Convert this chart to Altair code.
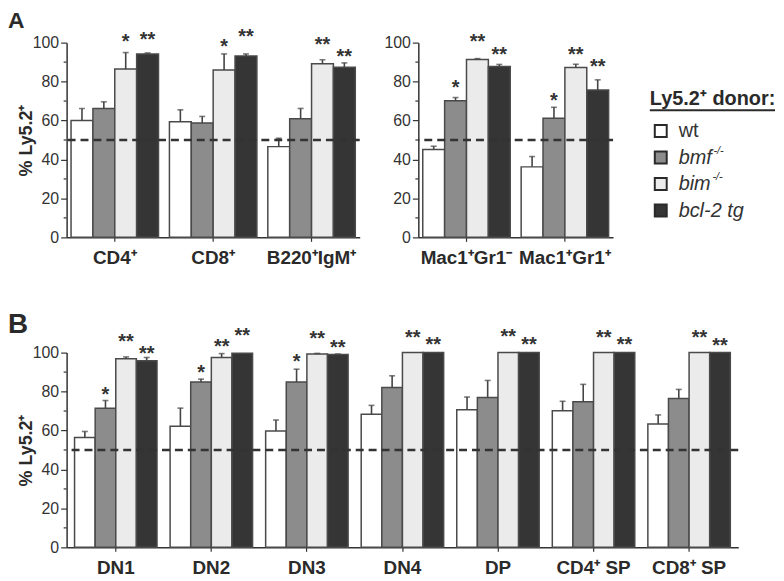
import altair as alt
import pandas as pd

FONT = "Liberation Sans"
INK = "#333333"

genotypes = ["wt", "bmf-/-", "bim-/-", "bcl-2 tg"]
fills = ["#ffffff", "#8c8c8c", "#ebebeb", "#353535"]

# ---------------- Panel A (lymphoid) ----------------
cats_a1 = ["CD4⁺", "CD8⁺", "B220⁺IgM⁺"]
a1_means = [
    [60.0, 59.4, 46.6],   # wt
    [66.2, 58.7, 60.9],   # bmf-/-
    [86.4, 85.9, 89.1],   # bim-/-
    [94.2, 93.2, 87.4],   # bcl-2 tg
]
a1_sems = [
    [6.2, 6.1, 4.3],
    [3.4, 3.4, 5.3],
    [8.5, 8.3, 2.1],
    [0.5, 1.0, 2.2],
]
a1_stars = [
    ["", "", ""],
    ["", "", ""],
    ["*", "*", "**"],
    ["**", "**", "**"],
]
a1_star_y = [
    [0, 0, 0],
    [0, 0, 0],
    [102.9, 100.3, 101.2],
    [103.7, 105.4, 95.2],
]

# ---------------- Panel A (myeloid) ----------------
cats_a2 = ["Mac1⁺Gr1⁻", "Mac1⁺Gr1⁺"]
a2_means = [
    [45.1, 36.2],
    [70.1, 61.2],
    [91.3, 87.2],
    [87.8, 75.7],
]
a2_sems = [
    [1.7, 5.3],
    [1.7, 5.6],
    [0.5, 1.7],
    [1.0, 5.2],
]
a2_stars = [
    ["", ""],
    ["*", "*"],
    ["**", "**"],
    ["**", "**"],
]
a2_star_y = [
    [0, 0],
    [79.1, 72.4],
    [102.9, 96.1],
    [96.1, 89.8],
]

# ---------------- Panel B (thymus) ----------------
cats_b = ["DN1", "DN2", "DN3", "DN4", "DP", "CD4⁺ SP", "CD8⁺ SP"]
b_means = [
    [56.4, 62.2, 59.8, 68.3, 70.7, 70.1, 63.3],
    [71.4, 84.9, 84.9, 82.1, 77.0, 74.8, 76.4],
    [96.9, 97.5, 99.3, 100, 100, 100, 100],
    [95.8, 99.7, 99.0, 100, 100, 100, 100],
]
b_sems = [
    [3.1, 9.3, 5.6, 4.6, 6.5, 4.9, 4.7],
    [4.0, 1.5, 6.6, 6.0, 8.7, 8.9, 4.7],
    [0.9, 2.0, 0.3, 0, 0, 0, 0],
    [1.7, 0, 0.3, 0, 0, 0, 0],
]
b_stars = [
    ["", "", "", "", "", "", ""],
    ["*", "*", "*", "", "", "", ""],
    ["**", "**", "**", "**", "**", "**", "**"],
    ["**", "**", "**", "**", "**", "**", "**"],
]
b_star_y = [
    [0, 0, 0, 0, 0, 0, 0],
    [81.0, 92.0, 97.5, 0, 0, 0, 0],
    [107.8, 105.3, 109.5, 110.2, 110.5, 110.2, 110.2],
    [101.9, 111.2, 104.7, 106.3, 106.3, 106.3, 106.0],
]

minor_ticks = [10, 30, 50, 70, 90]


def long_df(cats, means, sems, stars, star_y):
    rows = []
    for gi, g in enumerate(genotypes):
        for ci, c in enumerate(cats):
            rows.append(dict(cat=c, geno=g, mean=means[gi][ci], sem=sems[gi][ci],
                             top=means[gi][ci] + sems[gi][ci],
                             star=stars[gi][ci], star_y=star_y[gi][ci]))
    return pd.DataFrame(rows)


def marker(x, y, x2, y2):
    # invisible layout helper (fixes the panel bounds)
    return alt.Chart(pd.DataFrame({"t": [0]})).mark_rule(
        opacity=0, strokeWidth=0.5).encode(
        x=alt.value(x), y=alt.value(y), x2=alt.value(x2), y2=alt.value(y2))


def letter_layer(letter, size, y, opacity=1.0, x=-59):
    return alt.Chart(pd.DataFrame({"t": [letter]})).mark_text(
        font=FONT, fontSize=size, fontWeight="bold", color="#2a2a2a", opacity=opacity,
        align="left", baseline="alphabetic").encode(
        x=alt.value(x), y=alt.value(y), text="t:N")


def panel(df, cats, y_title, pad_inner, pad_outer):
    xs = alt.X("cat:N", sort=cats,
               scale=alt.Scale(domain=cats, paddingInner=pad_inner, paddingOuter=pad_outer),
               axis=alt.Axis(title=None, labelAngle=0, labelFont=FONT, labelFontSize=19,
                             labelFontWeight="bold", labelColor="#2a2a2a", tickSize=4,
                             labelPadding=7, domainColor=INK, domainWidth=1.5,
                             tickColor=INK, tickWidth=1.2))
    xo = alt.XOffset("geno:N", sort=genotypes,
                     scale=alt.Scale(domain=genotypes, paddingInner=0, paddingOuter=0))
    yaxis = alt.Axis(values=[0, 20, 40, 60, 80, 100], tickSize=6,
                     labelFont=FONT, labelFontSize=16, labelColor=INK, labelPadding=2,
                     domainColor=INK, domainWidth=1.5, tickColor=INK, tickWidth=1.2,
                     grid=False, title=y_title, titleFont=FONT, titleFontSize=18,
                     titleFontWeight="bold", titleColor="#2a2a2a", titlePadding=-3)
    ysc = alt.Scale(domain=[0, 100], nice=False, zero=True)

    def Y(field):
        return alt.Y(field, scale=ysc, axis=yaxis)

    fill = alt.Fill("geno:N", scale=alt.Scale(domain=genotypes, range=fills), legend=None)

    bars = alt.Chart(df).mark_bar(stroke="#4a4a4a", strokeWidth=1.5).encode(
        x=xs, xOffset=xo, y=Y("mean:Q"), fill=fill)
    errdf = df[df["sem"] > 0]
    err = alt.Chart(errdf).mark_bar(size=1.6, color="#444444").encode(
        x=xs, xOffset=xo, y=Y("mean:Q"), y2="top:Q")
    caps = alt.Chart(errdf).mark_tick(size=6, thickness=1.6, color="#444444",
                                      orient="horizontal").encode(
        x=xs, xOffset=xo, y=Y("top:Q"))
    stardf = df[df["star"] != ""]
    stars = alt.Chart(stardf).mark_text(font=FONT, fontSize=20, fontWeight="bold",
                                        color=INK, baseline="middle", dy=5).encode(
        x=xs, xOffset=xo, y=Y("star_y:Q"), text="star:N")
    refline = alt.Chart(pd.DataFrame({"v": [50]})).mark_rule(
        strokeDash=[8, 5], strokeWidth=2.5, color=INK).encode(y=Y("v:Q"))
    minor = alt.Chart(pd.DataFrame({"v": minor_ticks})).mark_rule(
        color=INK, strokeWidth=1.2).encode(y=Y("v:Q"), x=alt.value(-3), x2=alt.value(0))
    return [bars, err, caps, stars, refline, minor]


H = 196
A_BASE = -15

a1 = alt.layer(
    *panel(long_df(cats_a1, a1_means, a1_sems, a1_stars, a1_star_y), cats_a1,
           "% Ly5.2⁺", 0.111, 0.045),
    letter_layer("A", 23, A_BASE),
    marker(305, 0, 305, 196), marker(0, 235, 295, 235),
).properties(width=295, height=H)

a2 = alt.layer(
    *panel(long_df(cats_a2, a2_means, a2_sems, a2_stars, a2_star_y), cats_a2,
           None, 0.111, 0.045),
    letter_layer("A", 23, A_BASE, opacity=0, x=0),
    marker(-49, 0, -49, 196), marker(232, 0, 232, 196),
).properties(width=196, height=H)

b = alt.layer(
    *panel(long_df(cats_b, b_means, b_sems, b_stars, b_star_y), cats_b,
           "% Ly5.2⁺", 0.137, 0.083),
    letter_layer("B", 28, -20),
    marker(0, -45, 676, -45),
).properties(width=676, height=H)

# ---------------- custom legend ----------------
leg_df = pd.DataFrame({"geno": genotypes,
                       "name": ["wt", "bmf", "bim", "bcl-2 tg"],
                       "sup": ["", "-/-", "-/-", ""]})
leg_y = alt.Y("geno:N", scale=alt.Scale(type="point", domain=genotypes, range=[89, 169],
                                        padding=0), axis=None)
leg_fill = alt.Fill("geno:N", scale=alt.Scale(domain=genotypes, range=fills), legend=None)
lbase = alt.Chart(leg_df)
squares = lbase.mark_square(size=144, stroke="#2a2a2a", strokeWidth=2, opacity=1).encode(
    x=alt.value(11), y=leg_y, fill=leg_fill)
txt_plain = lbase.transform_filter("datum.geno === 'wt'").mark_text(
    font=FONT, fontSize=20, color=INK, align="left", baseline="middle").encode(
    x=alt.value(29), y=leg_y, text="name:N")
txt_ital = lbase.transform_filter("datum.geno !== 'wt'").mark_text(
    font=FONT, fontSize=20, fontStyle="italic", color=INK, align="left",
    baseline="middle").encode(x=alt.value(29), y=leg_y, text="name:N")
sup_bmf = lbase.transform_filter("datum.geno === 'bmf-/-'").mark_text(
    font=FONT, fontSize=11, fontStyle="italic", color=INK, align="left",
    baseline="middle", dy=-7).encode(x=alt.value(64), y=leg_y, text="sup:N")
sup_bim = lbase.transform_filter("datum.geno === 'bim-/-'").mark_text(
    font=FONT, fontSize=11, fontStyle="italic", color=INK, align="left",
    baseline="middle", dy=-7).encode(x=alt.value(63), y=leg_y, text="sup:N")
leg_title = alt.Chart(pd.DataFrame({"t": ["Ly5.2⁺ donor:"]})).mark_text(
    font=FONT, fontSize=20, fontWeight="bold", color="#2a2a2a", align="left",
    baseline="alphabetic").encode(x=alt.value(0), y=alt.value(63), text="t:N")
leg_line = alt.Chart(pd.DataFrame({"t": [1]})).mark_rule(
    color="#2a2a2a", strokeWidth=2).encode(
    x=alt.value(0), x2=alt.value(126), y=alt.value(68))
legend = alt.layer(leg_title, leg_line, squares, txt_plain, txt_ital, sup_bmf, sup_bim,
                   letter_layer("A", 23, A_BASE, opacity=0, x=20)
                   ).properties(width=100, height=H)

top = alt.hconcat(a1, a2, legend, spacing=0).resolve_scale(
    x="independent", y="independent", xOffset="independent")
chart = alt.vconcat(top, b, spacing=32).resolve_scale(
    x="independent", y="independent", xOffset="independent").properties(
    padding=0).configure_view(stroke=None)

chart.save("out.html", embed_options={"renderer": "svg", "actions": False})
